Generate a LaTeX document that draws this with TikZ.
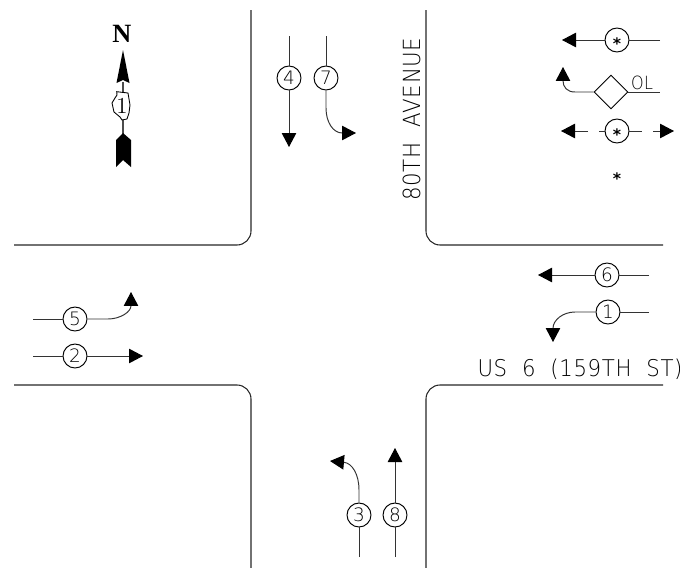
\documentclass[tikz,border=0pt]{standalone}
\usepackage{fontspec}
\usepackage{graphicx}
\newfontfamily\cadfont[LetterSpace=3,WordSpace=2]{DejaVu Sans ExtraLight}
\newfontfamily\northfont{Liberation Serif}
\newfontfamily\starfont{DejaVu Sans}
\usetikzlibrary{arrows.meta,calc}
\usetikzlibrary{shapes.geometric}
\tikzstyle{curb}=[line width=.6pt, black!85]
\tikzstyle{move}=[line width=.55pt, black!80, -{Triangle[length=.28cm,width=.29cm,black]}]
\tikzstyle{plain}=[line width=.55pt, black!80]
\tikzstyle{phase}=[draw, circle, line width=.55pt, inner sep=0pt, minimum size=.48cm, font=\cadfont\fontsize{10.5}{10.5}\selectfont]
\tikzstyle{overlap}=[draw, diamond, line width=.55pt, inner sep=0pt, minimum size=.68cm]
\tikzstyle{star}=[inner sep=0pt, font=\starfont\bfseries\fontsize{9}{9}\selectfont]
\newcommand{\starMark}{\raisebox{-.58em}[0pt][0pt]{*}}
\newcommand{\phaseStar}[2]{
	\node[phase] (#1) at #2 {};
	\node[star] (#1s) at #2 {\starMark};
}
\begin{document}
\begin{tikzpicture}[x=.02cm, y=-.02cm]
	\useasboundingbox (0,0) rectangle (680,568);
%
	\draw[curb] (251,10) -- (251,231) arc (0:90:14) -- (14,245);
	\draw[curb] (426,10) -- (426,231) arc (180:90:14) -- (663,245);
	\draw[curb] (14,385) -- (237,385) arc (-90:0:14) -- (251,568);
	\draw[curb] (663,385) -- (440,385) arc (-90:-180:14) -- (426,568);
%
	\node[inner sep=0pt] (street) at (580,369) {\resizebox{4.1cm}{.35cm}{\cadfont US 6 (159TH ST)}};
	\node[inner sep=0pt, rotate=90] (avenue) at (412,119) {\resizebox{3.26cm}{.35cm}{\cadfont 80TH AVENUE}};
%
	\node[phase] (p4) at (289,78) {4};
	\coordinate (p4a) at (289,36);
	\coordinate (p4b) at (289,147);
	\draw[plain] (p4a) -- (p4);
	\draw[move] (p4) -- (p4b);
%
	\node[phase] (p7) at (326,78) {7};
	\coordinate (p7a) at (326,36);
	\coordinate (p7b) at (356,133);
	\draw[plain] (p7a) -- (p7);
	\draw[move] (p7) -- (326,108) .. controls (326,122) and (333,133) .. (p7b);
%
	\node[phase] (p6) at (607,275) {6};
	\coordinate (p6a) at (649,275);
	\coordinate (p6b) at (538,275);
	\draw[plain] (p6a) -- (p6);
	\draw[move] (p6) -- (p6b);
%
	\node[phase] (p1) at (608,312) {1};
	\coordinate (p1a) at (649,312);
	\coordinate (p1b) at (553,342);
	\draw[plain] (p1a) -- (p1);
	\draw[move] (p1) -- (575,312) .. controls (563,312) and (553,320) .. (p1b);
%
	\node[phase] (p5) at (75,319) {5};
	\coordinate (p5a) at (33,319);
	\coordinate (p5b) at (131,292);
	\draw[plain] (p5a) -- (p5);
	\draw[move] (p5) -- (108,319) .. controls (120,319) and (131,312) .. (p5b);
%
	\node[phase] (p2) at (75,356) {2};
	\coordinate (p2a) at (33,356);
	\coordinate (p2b) at (143,356);
	\draw[plain] (p2a) -- (p2);
	\draw[move] (p2) -- (p2b);
%
	\node[phase] (p3) at (359,515) {3};
	\coordinate (p3a) at (359,557);
	\coordinate (p3b) at (330,461);
	\draw[plain] (p3a) -- (p3);
	\draw[move] (p3) -- (359,490) .. controls (359,474) and (352,463) .. (p3b);
%
	\node[phase] (p8) at (395,515) {8};
	\coordinate (p8a) at (395,557);
	\coordinate (p8b) at (395,448);
	\draw[plain] (p8a) -- (p8);
	\draw[move] (p8) -- (p8b);
%
	\phaseStar{pedA}{(617,40)}
	\coordinate (pedAa) at (660,40);
	\coordinate (pedAb) at (562,40);
	\draw[plain] (pedAa) -- (pedA);
	\draw[move] (pedA) -- (pedAb);
%
	\node[overlap] (ol) at (611,92) {};
	\coordinate (ola) at (660,92);
	\coordinate (olb) at (563,67);
	\draw[plain] (ol) -- (ola);
	\draw[move] (ol) -- (575,92) .. controls (567,92) and (563,87) .. (olb);
	\node[inner sep=0pt] (oltext) at (642,83) {\resizebox{.44cm}{.27cm}{\cadfont OL}};
%
	\phaseStar{pedB}{(617,131)}
	\coordinate (pedBa) at (588,131);
	\coordinate (pedBb) at (561,131);
	\coordinate (pedBc) at (599,131);
	\coordinate (pedBd) at (642,131);
	\coordinate (pedBe) at (653,131);
	\coordinate (pedBf) at (674,131);
	\draw[move] (pedBa) -- (pedBb);
	\draw[plain] (pedBc) -- (pedB);
	\draw[plain] (pedB) -- (pedBd);
	\draw[move] (pedBe) -- (pedBf);
	\node[star] (pedC) at (617,175) {\starMark};
%
	\node[inner sep=0pt, font=\northfont\bfseries\fontsize{15}{15}\selectfont] (north) at (122,34) {N};
	\coordinate (nTop) at (123,50);
	\coordinate (nTail) at (123,135);
	\fill (nTop) -- (129.5,83) -- (123,80) -- (116.5,83) -- cycle;
	\draw[line width=1pt, black!70] (123,82) -- (nTail);
	\fill (123,133) -- (131,140) -- (131,167) -- (123,160) -- (116,167) -- (116,140) -- cycle;
	\draw[fill=white, line width=.5pt] (116.7,91.7) -- (128,93) -- (130,105) -- (129,113) -- (127,119) -- (122,120) -- (120,117) -- (114,112) -- (112,103) -- (115,98) -- (117,95) -- cycle;
	\node[inner sep=0pt, font=\fontsize{13}{13}\selectfont] (route) at (122,106) {1};
\end{tikzpicture}
\end{document}
